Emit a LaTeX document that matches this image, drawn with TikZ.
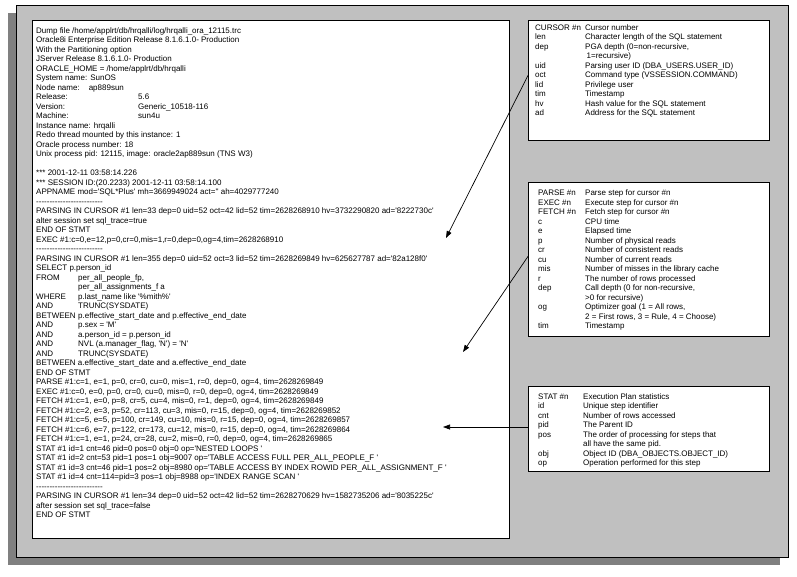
\documentclass[tikz,border=0pt]{standalone}
\usepackage{fontspec}
\newfontfamily\tracefont{Liberation Sans}
\usetikzlibrary{arrows.meta}
\definecolor{panelgray}{RGB}{192,192,192}
\definecolor{shadowgray}{RGB}{128,128,128}
\newcommand{\tabto}[2]{\makebox[#1][l]{#2}}

\begin{document}
\begin{tikzpicture}
[
    x=1pt, y=-1pt,
    textbox/.style={draw=black, fill=white, line width=0.8pt, anchor=north west, inner sep=0pt},
    listing/.style={anchor=north west, align=left, inner sep=0pt, font=\tracefont\fontsize{8}{9.5}\selectfont},
    pointer/.style={-{Triangle[length=7pt,width=5pt]}, line width=0.7pt}
]
    \useasboundingbox (0,0) rectangle (797,576);

    % panel with its shadow
    \fill[shadowgray] (8,13) rectangle (780,565);
    \node[textbox, fill=panelgray, minimum width=772pt, minimum height=552pt] (panel) at (16,5) {};

    \node[textbox, minimum width=477pt, minimum height=518pt] (tracebox) at (32,20) {};
    \node[textbox, minimum width=241pt, minimum height=120pt] (cursorbox) at (528,20) {};
    \node[textbox, minimum width=241pt, minimum height=154pt] (parsebox) at (528,182) {};
    \node[textbox, minimum width=241pt, minimum height=85pt] (statbox) at (528,386) {};

    % the trace file
    \node[listing] (tracetext) at (36,27) {%
        Dump file /home/applrt/db/hrqalli/log/hrqalli\_ora\_12115.trc\\
        Oracle8i Enterprise Edition Release 8.1.6.1.0- Production\\
        With the Partitioning option\\
        JServer Release 8.1.6.1.0- Production\\
        ORACLE\_HOME = /home/applrt/db/hrqalli\\
        System name: SunOS\\
        Node name:\hspace{9pt}ap889sun\\
        \tabto{102pt}{Release:}5.6\\
        \tabto{102pt}{Version:}Generic\_10518-116\\
        \tabto{102pt}{Machine:}sun4u\\
        Instance name: hrqalli\\
        Redo thread mounted by this instance: 1\\
        Oracle process number: 18\\
        Unix process pid: 12115, image: oracle2ap889sun (TNS W3)\\
        \mbox{}\\
        *** 2001-12-11 03:58:14.226\\
        *** SESSION ID:(20.2233) 2001-12-11 03:58:14.100\\
        APPNAME mod='SQL*Plus' mh=3669949024 act='' ah=4029777240\\
        -------------------------\\
        PARSING IN CURSOR \#1 len=33 dep=0 uid=52 oct=42 lid=52 tim=2628268910 hv=3732290820 ad='8222730c'\\
        alter session set sql\_trace=true\\
        END OF STMT\\
        EXEC \#1:c=0,e=12,p=0,cr=0,mis=1,r=0,dep=0,og=4,tim=2628268910\\
        -------------------------\\
        PARSING IN CURSOR \#1 len=355 dep=0 uid=52 oct=3 lid=52 tim=2628269849 hv=625627787 ad='82a128f0'\\
        SELECT p.person\_id\\
        \tabto{42pt}{FROM}per\_all\_people\_fp,\\
        \tabto{42pt}{}per\_all\_assignments\_f a\\
        \tabto{42pt}{WHERE}p.last\_name like '\%mith\%'\\
        \tabto{42pt}{AND}TRUNC(SYSDATE)\\
        \tabto{42pt}{BETWEEN}p.effective\_start\_date and p.effective\_end\_date\\
        \tabto{42pt}{AND}p.sex = 'M'\\
        \tabto{42pt}{AND}a.person\_id = p.person\_id\\
        \tabto{42pt}{AND}NVL (a.manager\_flag, 'N') = 'N'\\
        \tabto{42pt}{AND}TRUNC(SYSDATE)\\
        BETWEEN a.effective\_start\_date and a.effective\_end\_date\\
        END OF STMT\\
        PARSE \#1:c=1, e=1, p=0, cr=0, cu=0, mis=1, r=0, dep=0, og=4, tim=2628269849\\
        EXEC \#1:c=0, e=0, p=0, cr=0, cu=0, mis=0, r=0, dep=0, og=4, tim=2628269849\\
        FETCH \#1:c=1, e=0, p=8, cr=5, cu=4, mis=0, r=1, dep=0, og=4, tim=2628269849\\
        FETCH \#1:c=2, e=3, p=52, cr=113, cu=3, mis=0, r=15, dep=0, og=4, tim=2628269852\\
        FETCH \#1:c=5, e=5, p=100, cr=149, cu=10, mis=0, r=15, dep=0, og=4, tim=2628269857\\
        FETCH \#1:c=6, e=7, p=122, cr=173, cu=12, mis=0, r=15, dep=0, og=4, tim=2628269864\\
        FETCH \#1:c=1, e=1, p=24, cr=28, cu=2, mis=0, r=0, dep=0, og=4, tim=2628269865\\
        STAT \#1 id=1 cnt=46 pid=0 pos=0 obj=0 op='NESTED LOOPS '\\
        STAT \#1 id=2 cnt=53 pid=1 pos=1 obj=9007 op='TABLE ACCESS FULL PER\_ALL\_PEOPLE\_F '\\
        STAT \#1 id=3 cnt=46 pid=1 pos=2 obj=8980 op='TABLE ACCESS BY INDEX ROWID PER\_ALL\_ASSIGNMENT\_F '\\
        STAT \#1 id=4 cnt=114=pid=3 pos=1 obj=8988 op='INDEX RANGE SCAN '\\
        -------------------------\\
        PARSING IN CURSOR \#1 len=34 dep=0 uid=52 oct=42 lid=52 tim=2628270629 hv=1582735206 ad='8035225c'\\
        after session set sql\_trace=false\\
        END OF STMT};

    % the three keys
    \node[listing] (cursortext) at (535,24) {%
        \tabto{50pt}{CURSOR \#n}Cursor number\\
        \tabto{50pt}{len}Character length of the SQL statement\\
        \tabto{50pt}{dep}PGA depth (0=non-recursive,\\
        \tabto{50pt}{}\hspace{1.5pt}1=recursive)\\
        \tabto{50pt}{uid}Parsing user ID (DBA\_USERS.USER\_ID)\\
        \tabto{50pt}{oct}Command type (VSSESSION.COMMAND)\\
        \tabto{50pt}{lid}Privilege user\\
        \tabto{50pt}{tim}Timestamp\\
        \tabto{50pt}{hv}Hash value for the SQL statement\\
        \tabto{50pt}{ad}Address for the SQL statement};

    \node[listing] (parsetext) at (538,190) {%
        \tabto{47pt}{PARSE \#n}Parse step for cursor \#n\\
        \tabto{47pt}{EXEC \#n}Execute step for cursor \#n\\
        \tabto{47pt}{FETCH \#n}Fetch step for cursor \#n\\
        \tabto{47pt}{c}CPU time\\
        \tabto{47pt}{e}Elapsed time\\
        \tabto{47pt}{p}Number of physical reads\\
        \tabto{47pt}{cr}Number of consistent reads\\
        \tabto{47pt}{cu}Number of current reads\\
        \tabto{47pt}{mis}Number of misses in the library cache\\
        \tabto{47pt}{r}The number of rows processed\\
        \tabto{47pt}{dep}Call depth (0 for non-recursive,\\
        \tabto{47pt}{}>0 for recursive)\\
        \tabto{47pt}{og}Optimizer goal (1 = All rows,\\
        \tabto{47pt}{}2 = First rows, 3 = Rule, 4 = Choose)\\
        \tabto{47pt}{tim}Timestamp};

    \node[listing] (stattext) at (538,393) {%
        \tabto{45pt}{STAT \#n}Execution Plan statistics\\
        \tabto{45pt}{id}Unique step identifier\\
        \tabto{45pt}{cnt}Number of rows accessed\\
        \tabto{45pt}{pid}The Parent ID\\
        \tabto{45pt}{pos}The order of processing for steps that\\
        \tabto{45pt}{}all have the same pid.\\
        \tabto{45pt}{obj}Object ID (DBA\_OBJECTS.OBJECT\_ID)\\
        \tabto{45pt}{op}Operation performed for this step};

    % pointers into the trace
    \coordinate (cursorline) at (446,238);
    \coordinate (selectline) at (463,352);
    \coordinate (fetchline) at (443,427);
    \draw[pointer] ([yshift=5pt]cursorbox.west) -- (cursorline);
    \draw[pointer] ([yshift=3pt]parsebox.west) -- (selectline);
    \draw[pointer] (statbox.west |- fetchline) -- (fetchline);
\end{tikzpicture}
\end{document}
